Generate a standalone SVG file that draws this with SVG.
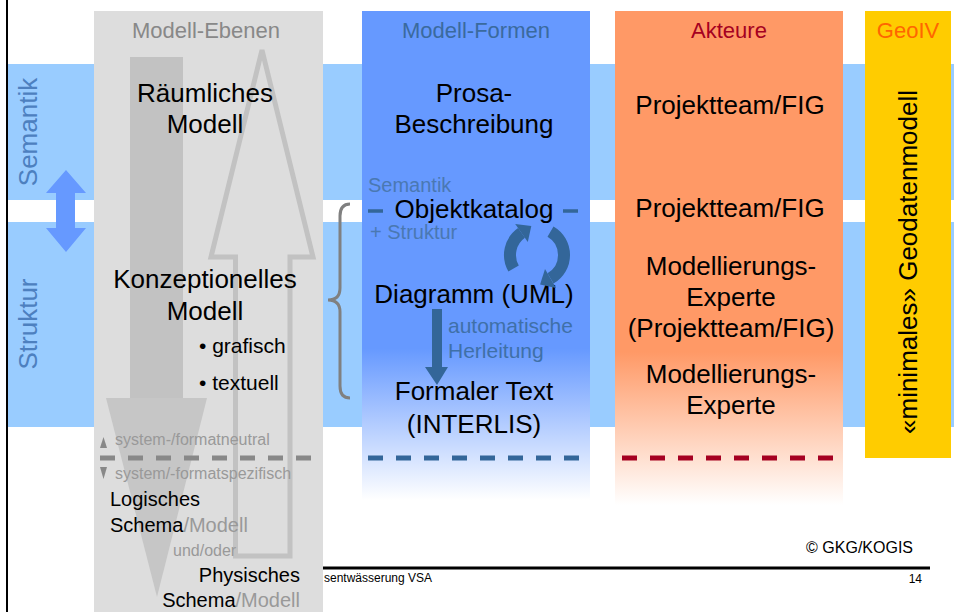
<svg xmlns="http://www.w3.org/2000/svg" width="954" height="612" viewBox="0 0 954 612">
  <defs>
    <linearGradient id="fadeBlue" x1="0" y1="0" x2="0" y2="1">
      <stop offset="0" stop-color="#6699FF"/>
      <stop offset="0.69" stop-color="#6699FF"/>
      <stop offset="1" stop-color="#FFFFFF"/>
    </linearGradient>
    <linearGradient id="fadeOrange" x1="0" y1="0" x2="0" y2="1">
      <stop offset="0" stop-color="#FF9966"/>
      <stop offset="0.69" stop-color="#FF9966"/>
      <stop offset="1" stop-color="#FFFFFF"/>
    </linearGradient>
    <style>
      text { font-family: "Liberation Sans", Arial, sans-serif; }
      .main { font-size: 26px; fill: #000; }
      .mid { text-anchor: middle; }
      .title { font-size: 22px; text-anchor: middle; }
      .band { font-size: 26px; fill: #4D80BF; text-anchor: middle; }
      .note { font-size: 16px; fill: #999999; }
      .low { font-size: 20px; fill: #000; }
      .hint { font-size: 20px; fill: #4A78B2; }
      .dash { fill: none; stroke-width: 5; stroke-dasharray: 15 13; }
    </style>
  </defs>

  <rect width="954" height="612" fill="#FFFFFF"/>

  <!-- horizontal bands -->
  <g id="bands">
    <rect x="8" y="64" width="946" height="136" fill="#99CCFF"/>
    <rect x="8" y="222" width="946" height="205" fill="#99CCFF"/>
    <text class="band" transform="translate(37,132) rotate(-90)">Semantik</text>
    <text class="band" transform="translate(37,324) rotate(-90)" font-size="27">Struktur</text>
  </g>

  <!-- frame and footer -->
  <g id="frame">
    <line x1="7" y1="0" x2="7" y2="612" stroke="#000" stroke-width="2"/>
    <line x1="322" y1="568" x2="930" y2="568" stroke="#000" stroke-width="3"/>
    <text x="324" y="582" font-size="12">sentwässerung VSA</text>
    <text x="922" y="583" font-size="12" text-anchor="end">14</text>
    <text x="913" y="553" font-size="16" text-anchor="end">© GKG/KOGIS</text>
  </g>

  <!-- column: model levels -->
  <g id="modell-ebenen">
    <rect x="94" y="11" width="229" height="601" fill="#DDDDDD"/>
    <rect x="130" y="57" width="53" height="341" fill="#C2C2C2"/>
    <polygon points="106,398 207,398 157,597" fill="#C6C6C6"/>
    <polygon points="262,50 313,257 290,257 290,556 235.5,556 235.5,257 211,257" fill="none" stroke="#C2C2C2" stroke-width="5" stroke-linejoin="miter"/>
    <text class="title" x="206" y="38" fill="#888888">Modell-Ebenen</text>
    <text class="main mid" x="205" y="102">Räumliches</text>
    <text class="main mid" x="205" y="133">Modell</text>
    <text class="main mid" x="205" y="288">Konzeptionelles</text>
    <text class="main mid" x="205" y="320">Modell</text>
    <text x="199" y="353" font-size="21">• grafisch</text>
    <text x="199" y="390" font-size="21">• textuell</text>
    <polygon points="100,448 103.5,437 107,448" fill="#888888"/>
    <text class="note" x="115" y="445">system-/formatneutral</text>
    <line class="dash" x1="100" y1="458" x2="312" y2="458" stroke="#888888"/>
    <polygon points="100,467 107,467 103.5,479" fill="#888888"/>
    <text class="note" x="115" y="479">system/-formatspezifisch</text>
    <text class="low" x="110" y="506">Logisches</text>
    <text class="low" x="110" y="532">Schema<tspan fill="#999999">/Modell</tspan></text>
    <text class="note" x="173" y="556">und/oder</text>
    <text class="low" x="300" y="582" text-anchor="end">Physisches</text>
    <text class="low" x="300" y="607" text-anchor="end">Schema<tspan fill="#999999">/Modell</tspan></text>
  </g>

  <!-- column: model forms -->
  <g id="modell-formen">
    <rect x="362" y="11" width="228" height="489" fill="url(#fadeBlue)"/>
    <text class="title" x="476" y="38" fill="#3A6A9E">Modell-Formen</text>
    <text class="main mid" x="474" y="102">Prosa-</text>
    <text class="main mid" x="474" y="133">Beschreibung</text>
    <text class="hint" x="368" y="192">Semantik</text>
    <line x1="368" y1="211" x2="383" y2="211" stroke="#336699" stroke-width="3.5"/>
    <text class="main mid" x="474" y="218">Objektkatalog</text>
    <line x1="563" y1="211" x2="578" y2="211" stroke="#336699" stroke-width="3.5"/>
    <text class="hint" x="370" y="239">+ Struktur</text>
    <text class="main mid" x="474" y="303">Diagramm (UML)</text>
    <text x="448" y="333" font-size="21" fill="#3F70A8">automatische</text>
    <text x="448" y="358" font-size="21" fill="#3F70A8">Herleitung</text>
    <text class="main mid" x="474" y="400">Formaler Text</text>
    <text class="main mid" x="474" y="433">(INTERLIS)</text>
    <line class="dash" x1="368" y1="458" x2="580" y2="458" stroke="#336699"/>
  </g>

  <!-- column: actors -->
  <g id="akteure">
    <rect x="615" y="11" width="228" height="494" fill="url(#fadeOrange)"/>
    <text class="title" x="729" y="38" fill="#A50021">Akteure</text>
    <text class="main mid" x="730" y="114">Projektteam/FIG</text>
    <text class="main mid" x="730" y="217">Projektteam/FIG</text>
    <text class="main mid" x="731" y="275">Modellierungs-</text>
    <text class="main mid" x="731" y="306">Experte</text>
    <text class="main mid" x="731" y="337">(Projektteam/FIG)</text>
    <text class="main mid" x="731" y="383">Modellierungs-</text>
    <text class="main mid" x="731" y="414">Experte</text>
    <line class="dash" x1="622" y1="458" x2="833" y2="458" stroke="#A50021"/>
  </g>

  <!-- column: GeoIV -->
  <g id="geoiv">
    <rect x="865" y="11" width="86" height="447" fill="#FFCC00"/>
    <text class="title" x="908" y="38" fill="#FF6600">GeoIV</text>
    <text class="main mid" transform="translate(917,262) rotate(-90)">«minimales» Geodatenmodell</text>
  </g>

  <!-- connectors -->
  <g id="connectors">
    <polygon points="66,170 86,193 75,193 75,228 86,228 66,252 46,228 56,228 56,193 46,193" fill="#6699FF"/>
    <path d="M350,204 Q340,204 340,216 L340,288 Q340,300 328,300 Q340,300 340,312 L340,386 Q340,398 350,398" fill="none" stroke="#808080" stroke-width="3"/>
    <polygon points="432,309 442,309 442,367 448,367 437,385 425,367 432,367" fill="#336699"/>
    <path d="M513.6,268.5 A27,27 0 0 1 521.5,232.9" fill="none" stroke="#336699" stroke-width="12"/>
    <polygon points="515.2,223.9 527.8,241.9 531.3,226" fill="#336699"/>
    <path d="M550.5,231.6 A27,27 0 0 1 550.5,278.4" fill="none" stroke="#336699" stroke-width="12"/>
    <polygon points="556,288 545,268.9 540.1,284.4" fill="#336699"/>
  </g>
</svg>
